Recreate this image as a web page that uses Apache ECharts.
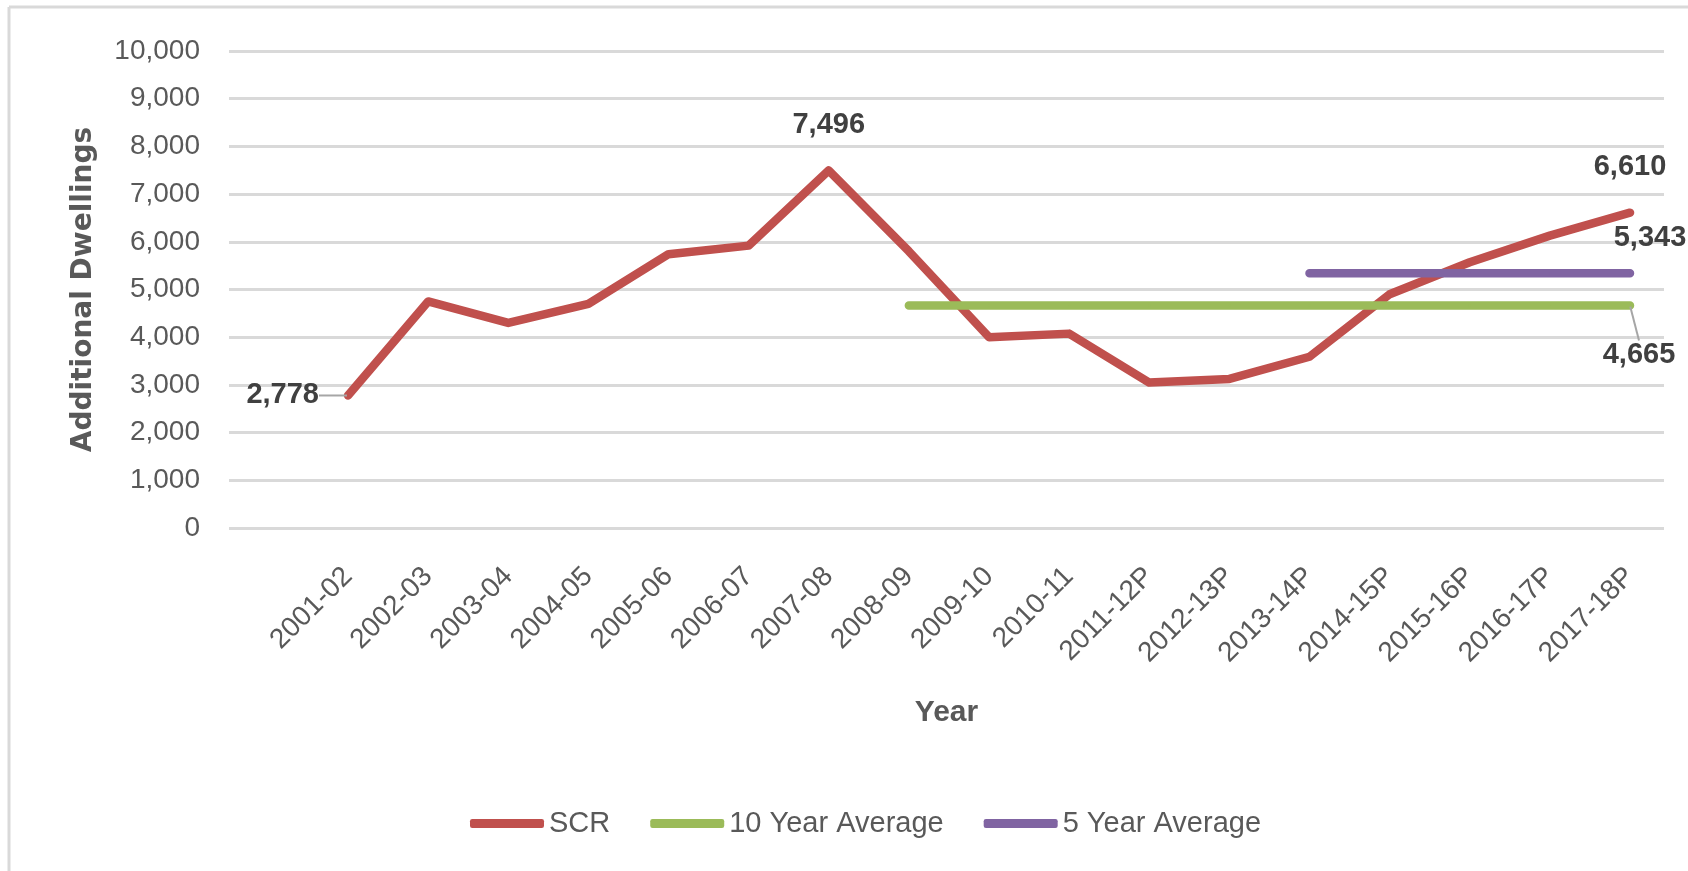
<!DOCTYPE html>
<html>
<head>
<meta charset="utf-8">
<script src="https://cdn.jsdelivr.net/npm/echarts@6/dist/echarts.min.js"></script>
<style>
  html, body { margin: 0; padding: 0; background: #ffffff; }
  #dwellings-chart { width: 1688px; height: 871px; }
</style>
</head>
<body>
<div id="dwellings-chart"></div>
<script>
var years = ["2001-02", "2002-03", "2003-04", "2004-05", "2005-06", "2006-07", "2007-08", "2008-09",
  "2009-10", "2010-11", "2011-12P", "2012-13P", "2013-14P", "2014-15P", "2015-16P", "2016-17P", "2017-18P"];
var scr = [2778, 4750, 4300, 4700, 5740, 5920, 7496, 5800, 4000, 4075, 3050, 3125, 3590, 4900, 5570, 6130, 6610];
var tenYearAvg = [null, null, null, null, null, null, null, 4665, 4665, 4665, 4665, 4665, 4665, 4665, 4665, 4665, 4665];
var fiveYearAvg = [null, null, null, null, null, null, null, null, null, null, null, null, 5343, 5343, 5343, 5343, 5343];
var yTicks = [0, 1000, 2000, 3000, 4000, 5000, 6000, 7000, 8000, 9000, 10000];

var FONT = "Liberation Sans";
var fmt = function (v) { return Number(v).toLocaleString("en-US"); };

var valueLabel = {
  show: true,
  fontFamily: FONT,
  fontSize: 29,
  fontWeight: "bold",
  color: "#404040",
  formatter: function (p) { return fmt(p.value); }
};

// only a few points carry a label
function withLabels(values, labels) {
  return values.map(function (v, i) {
    if (labels[i]) {
      return { value: v, label: Object.assign({}, valueLabel, labels[i].label), labelLine: labels[i].labelLine };
    }
    return v;
  });
}

var leader = { show: true, lineStyle: { color: "#a6a6a6", width: 2 } };

var scrData = withLabels(scr, {
  0: { label: { position: "left", distance: 8 }, labelLine: leader },
  6: { label: { position: "top", distance: 30 } },
  16: { label: { position: "top", distance: 30 } }
});
var tenData = withLabels(tenYearAvg, {
  16: { label: { position: "bottom", distance: 6 }, labelLine: leader }
});
var fiveData = withLabels(fiveYearAvg, {
  16: { label: { position: "top", distance: 20, offset: [20, 0] } }
});

var chart = echarts.init(document.getElementById("dwellings-chart"));

var option = {
  animation: false,
  backgroundColor: "#ffffff",
  graphic: [
    { type: "line", shape: { x1: 9, y1: 7, x2: 9, y2: 871 }, style: { stroke: "#d9d9d9", lineWidth: 3 } },
    { type: "line", shape: { x1: 9, y1: 7, x2: 1688, y2: 7 }, style: { stroke: "#d9d9d9", lineWidth: 3 } }
  ],
  // grid 0 carries gridlines and titles, grid 1 carries the data
  grid: [
    { left: 229, right: 24, top: 51, height: 477 },
    { left: 348, right: 58, top: 51, height: 477 }
  ],
  legend: {
    data: ["SCR", "10 Year Average", "5 Year Average"],
    left: 465,
    top: 804,
    icon: "roundRect",
    itemWidth: 74,
    itemHeight: 9,
    itemGap: 40,
    textStyle: { fontFamily: FONT, fontSize: 29, color: "#595959" }
  },
  xAxis: [
    {
      gridIndex: 0,
      type: "value",
      min: 0,
      max: 1,
      name: "Year",
      nameLocation: "middle",
      nameGap: 170,
      nameTextStyle: { fontFamily: FONT, fontSize: 30, fontWeight: "bold", color: "#595959" },
      axisLine: { show: false },
      axisTick: { show: false },
      axisLabel: { show: false },
      splitLine: { show: false }
    },
    {
      gridIndex: 1,
      type: "category",
      boundaryGap: false,
      data: years,
      axisLine: { show: false },
      axisTick: { show: false },
      axisLabel: { rotate: 45, margin: 44, interval: 0, fontFamily: FONT, fontSize: 28, color: "#595959" }
    }
  ],
  yAxis: [
    {
      gridIndex: 0,
      type: "value",
      min: yTicks[0],
      max: yTicks[yTicks.length - 1],
      interval: 1000,
      name: "Additional Dwellings",
      nameLocation: "middle",
      nameGap: 131,
      nameTextStyle: { fontFamily: "DejaVu Sans", fontSize: 28, fontWeight: "bold", color: "#595959" },
      axisLine: { show: false },
      axisTick: { show: false },
      axisLabel: { margin: 29, fontFamily: FONT, fontSize: 28, color: "#595959", formatter: fmt },
      splitLine: { lineStyle: { color: "#d9d9d9", width: 3 } }
    },
    {
      gridIndex: 1,
      type: "value",
      min: yTicks[0],
      max: yTicks[yTicks.length - 1],
      show: false,
      splitLine: { show: false }
    }
  ],
  series: [
    {
      name: "SCR",
      type: "line",
      xAxisIndex: 1,
      yAxisIndex: 1,
      data: scrData,
      color: "#c0504d",
      symbol: "circle",
      symbolSize: 2,
      lineStyle: { width: 8.5, cap: "round", join: "round" },
      label: { show: false },
      labelLayout: function (p) { return p.dataIndex === 0 ? { dx: -20 } : {}; }
    },
    {
      name: "10 Year Average",
      type: "line",
      xAxisIndex: 1,
      yAxisIndex: 1,
      data: tenData,
      color: "#9bbb59",
      symbol: "circle",
      symbolSize: 2,
      lineStyle: { width: 8.5, cap: "round" },
      label: { show: false },
      labelLayout: function (p) { return p.dataIndex === 16 ? { dx: 9, dy: 28 } : {}; }
    },
    {
      name: "5 Year Average",
      type: "line",
      xAxisIndex: 1,
      yAxisIndex: 1,
      data: fiveData,
      color: "#8064a2",
      symbol: "circle",
      symbolSize: 2,
      lineStyle: { width: 8.5, cap: "round" },
      label: { show: false }
    }
  ]
};

chart.setOption(option);
</script>
</body>
</html>
